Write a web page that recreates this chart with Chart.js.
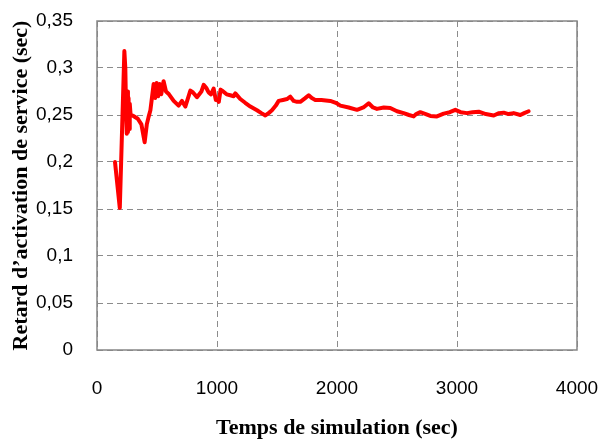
<!DOCTYPE html>
<html>
<head>
<meta charset="utf-8">
<script src="https://cdn.jsdelivr.net/npm/chart.js@4/dist/chart.umd.min.js"></script>
<style>
  html, body { margin: 0; padding: 0; background: #fff; }
  #wrap { width: 602px; height: 442px; position: relative; }
</style>
</head>
<body>
<div id="wrap"><canvas id="delay-chart"></canvas></div>
<script>
// Temps de simulation (sec)
const simTime = [
  150, 190, 228, 236, 243, 248, 253, 258, 263, 268, 273, 280, 303, 340, 370,
  397, 415, 430, 445, 472, 485, 497, 510, 522, 535, 555, 575, 600, 639, 680,
  708, 736, 778, 800, 833, 870, 889, 910, 930, 950, 972, 990, 1000, 1015, 1030,
  1042, 1080, 1111, 1139, 1153, 1194, 1235, 1278, 1333, 1370, 1403, 1430, 1458, 1490, 1514,
  1550, 1583, 1611, 1639, 1667, 1694, 1735, 1764, 1790, 1819, 1870, 1944, 1990, 2028, 2097,
  2167, 2220, 2264, 2300, 2333, 2390, 2444, 2500, 2555, 2600, 2639, 2660, 2694, 2740, 2778,
  2833, 2889, 2940, 2986, 3030, 3083, 3130, 3181, 3240, 3306, 3350, 3389, 3430, 3472, 3528,
  3560, 3597
];

// Retard d'activation de service (sec)
const serviceDelay = [
  0.200, 0.151, 0.318, 0.300, 0.250, 0.230, 0.275, 0.232, 0.268, 0.235, 0.262, 0.250, 0.249, 0.246, 0.240,
  0.221, 0.240, 0.248, 0.255, 0.283, 0.268, 0.284, 0.270, 0.283, 0.272, 0.286, 0.275, 0.272, 0.265, 0.260,
  0.265, 0.259, 0.276, 0.274, 0.269, 0.275, 0.282, 0.279, 0.274, 0.272, 0.278, 0.266, 0.267, 0.264, 0.277,
  0.276, 0.272, 0.271, 0.270, 0.273, 0.267, 0.263, 0.259, 0.255, 0.252, 0.2495, 0.252, 0.255, 0.260, 0.265,
  0.266, 0.267, 0.2695, 0.265, 0.264, 0.264, 0.268, 0.271, 0.268, 0.266, 0.266, 0.265, 0.263, 0.260, 0.258,
  0.2555, 0.258, 0.2625, 0.258, 0.2565, 0.258, 0.2575, 0.254, 0.252, 0.250, 0.2485, 0.251, 0.253, 0.251, 0.249,
  0.2485, 0.2515, 0.253, 0.2555, 0.253, 0.252, 0.253, 0.2535, 0.251, 0.2495, 0.252, 0.2525, 0.251, 0.252, 0.250,
  0.252, 0.254
];

const xTicks = [0, 1000, 2000, 3000, 4000];
const yTicks = [0, 0.05, 0.1, 0.15, 0.2, 0.25, 0.3, 0.35];

const tickFont = { family: "'Liberation Sans', Arial, sans-serif", size: 19 };
const titleFont = { family: "'Liberation Serif', 'Times New Roman', serif", size: 22, weight: "bold" };
const gridColor = "#8c8c8c";

// solid frame round the plot area
const plotFrame = {
  id: "plotFrame",
  beforeDatasetsDraw(chart) {
    const { ctx, chartArea: a } = chart;
    ctx.save();
    ctx.strokeStyle = "#868686";
    ctx.lineWidth = 1.5;
    ctx.strokeRect(a.left, a.top, a.right - a.left, a.bottom - a.top);
    ctx.restore();
  },
};

const points = simTime.map((t, i) => ({ x: t, y: serviceDelay[i] }));

new Chart(document.getElementById("delay-chart"), {
  type: "line",
  data: {
    datasets: [
      {
        label: "Retard",
        data: points,
        borderColor: "#ff0000",
        backgroundColor: "#ff0000",
        borderWidth: 4,
        borderJoinStyle: "round",
        borderCapStyle: "round",
        pointRadius: 0,
        tension: 0,
        fill: false,
      },
    ],
  },
  options: {
    responsive: true,
    maintainAspectRatio: false,
    animation: false,
    layout: { padding: { top: 21, right: 25, bottom: 0, left: 0 } },
    plugins: {
      legend: { display: false },
      tooltip: { enabled: false },
    },
    scales: {
      x: {
        type: "linear",
        min: xTicks[0],
        max: xTicks[xTicks.length - 1],
        afterBuildTicks: (scale) => {
          scale.ticks = xTicks.map((v) => ({ value: v }));
        },
        afterFit: (scale) => {
          scale.height = 92;
        },
        ticks: {
          color: "#000",
          font: tickFont,
          padding: 3,
          maxRotation: 0,
          autoSkip: false,
          callback: (v) => String(v),
        },
        // invisible tick marks keep the labels away from the axis
        grid: {
          color: gridColor,
          lineWidth: 1,
          drawTicks: true,
          tickLength: 24,
          tickColor: "rgba(0,0,0,0)",
        },
        border: { display: false, dash: [6, 4] },
        title: {
          display: true,
          text: "Temps de simulation (sec)",
          color: "#000",
          font: titleFont,
          padding: { top: 0, bottom: 0 },
        },
      },
      y: {
        min: yTicks[0],
        max: yTicks[yTicks.length - 1],
        afterBuildTicks: (scale) => {
          scale.ticks = yTicks.map((v) => ({ value: v }));
        },
        afterFit: (scale) => {
          scale.width = 97;
        },
        ticks: {
          color: "#000",
          font: tickFont,
          padding: 3,
          autoSkip: false,
          callback: (v) => String(Math.round(v * 100) / 100).replace(".", ","),
        },
        grid: {
          color: gridColor,
          lineWidth: 1,
          drawTicks: true,
          tickLength: 21,
          tickColor: "rgba(0,0,0,0)",
        },
        border: { display: false, dash: [6, 4] },
        title: {
          display: true,
          text: "Retard d’activation de service (sec)",
          color: "#000",
          font: titleFont,
          padding: { top: 8, bottom: 0 },
        },
      },
    },
  },
  plugins: [plotFrame],
});
</script>
</body>
</html>
